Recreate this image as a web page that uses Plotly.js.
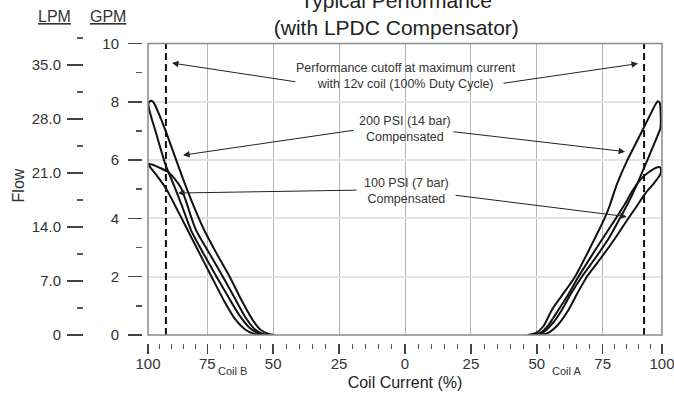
<!DOCTYPE html>
<html>
<head>
<meta charset="utf-8">
<script src="https://cdn.plot.ly/plotly-3.0.1.min.js"></script>
<style>html,body{margin:0;padding:0;background:#fff;}#chart{width:674px;height:396px;}</style>
</head>
<body>
<div id="chart"></div>
<script>
// ---- axis ticks ----
const xTickVals = [-97.5, -75, -50, -25, 0, 25, 50, 75, 97.5];
const xTickText = ['100', '75', '50', '25', '0', '25', '50', '75', '100'];
const xMinorVals = [-93, -88.5, -84, -79.5, -70, -65, -60, -55, -45, -40, -35, -30, -20, -15, -10, -5,
                    5, 10, 15, 20, 30, 35, 40, 45, 55, 60, 65, 70, 79.5, 84, 88.5, 93];
const gpmTicks = [0, 2, 4, 6, 8, 10];
const lpmTicks = [0, 7, 14, 21, 28, 35];
const lpmText = ['0', '7.0', '14.0', '21.0', '28.0', '35.0'];
const lpmMinor = [3.5, 10.5, 17.5, 24.5, 31.5, 38.5];

// ---- cutoff (max current, 12v coil) ----
const cutoffX = [-90.7, 90.7];
const cutoffFlow = [0, 10];

// ---- Coil B (left) 200 PSI loop ----
const coilB200X = [-53.5, -55.5, -59, -63, -67, -71.5, -76.5, -81.2, -84.5, -87.5, -90.7, -92.6, -94.5, -96.2, -97.2,
                   -97.3, -96.6, -95.6,
                   -94.9, -93.2, -90.6, -88.2, -85.6, -83.1, -79.6, -76.2, -71.5, -66.5, -63.2, -60, -57.3, -54.7, -51.8, -49.5];
const coilB200Y = [0, 0.05, 0.25, 0.7, 1.3, 2.0, 2.8, 3.6, 4.4, 5.1, 5.8, 6.35, 6.95, 7.45, 7.8,
                   7.95, 8.03, 8.0,
                   7.9, 7.55, 6.95, 6.35, 5.7, 5.09, 4.3, 3.6, 2.8, 2.0, 1.4, 0.86, 0.45, 0.17, 0.04, 0];

// ---- Coil B (left) 100 PSI loop ----
const coilB100X = [-55.5, -57, -60.5, -64.5, -68.5, -73.4, -78.5, -83.3, -87, -90.5, -94, -96.2, -97.2,
                   -97.3,
                   -96, -93.6, -90, -87.3, -85, -83.3, -81.5, -79.3, -74.2, -69.1, -64.5, -60.5, -57, -54, -52];
const coilB100Y = [0, 0.03, 0.18, 0.55, 1.15, 2.0, 2.9, 3.75, 4.4, 5.0, 5.45, 5.7, 5.82,
                   5.86,
                   5.85, 5.76, 5.6, 5.35, 5.05, 4.65, 4.15, 3.6, 2.8, 2.0, 1.25, 0.6, 0.2, 0.04, 0];

// ---- Coil A (right) 200 PSI loop ----
const coilA200X = [46.5, 49.5, 52.5, 55.7, 59.5, 64.5, 70, 75.7, 77.5, 80.3, 84.1, 89.2, 93, 94.9, 95.9, 96.7, 97.0, 96.9,
                   94.5, 91.7, 88.2, 84.8, 81.2, 77.2, 72.3, 67.1, 63, 59.5, 56, 52.5, 49.5];
const coilA200Y = [0, 0.06, 0.3, 0.86, 1.35, 2.0, 2.95, 4.0, 4.4, 5.15, 5.95, 6.86, 7.55, 7.89, 8.02, 7.95, 7.6, 7.1,
                   6.55, 5.95, 5.2, 4.55, 3.95, 3.3, 2.65, 2.0, 1.42, 0.86, 0.4, 0.1, 0];

// ---- Coil A (right) 100 PSI loop ----
const coilA100X = [48.5, 51.5, 54.5, 58.2, 62, 65.8, 71, 76, 80, 83.5, 86.1, 88.7, 91.2, 93.7, 96.2, 96.9,
                   97.1, 96.8,
                   94.4, 91.2, 87.4, 83.6, 78.8, 74, 69, 65.5, 62, 58, 54.5, 51.5];
const coilA100Y = [0, 0.08, 0.35, 0.86, 1.4, 2.0, 2.75, 3.45, 4.0, 4.5, 4.92, 5.26, 5.5, 5.66, 5.76, 5.74,
                   5.62, 5.5,
                   5.2, 4.86, 4.35, 3.85, 3.2, 2.6, 2.0, 1.45, 0.86, 0.35, 0.08, 0];

const FONT = 'Liberation Sans, Arial, Helvetica, sans-serif';
const curveLine = {color: '#111', width: 2, shape: 'spline', smoothing: 0.6};

const traces = [
  {x: coilB200X, y: coilB200Y, mode: 'lines', line: curveLine, hoverinfo: 'skip', name: 'Coil B 200 PSI'},
  {x: coilB100X, y: coilB100Y, mode: 'lines', line: curveLine, hoverinfo: 'skip', name: 'Coil B 100 PSI'},
  {x: coilA200X, y: coilA200Y, mode: 'lines', line: curveLine, hoverinfo: 'skip', name: 'Coil A 200 PSI'},
  {x: coilA100X, y: coilA100Y, mode: 'lines', line: curveLine, hoverinfo: 'skip', name: 'Coil A 100 PSI'},
  {x: [cutoffX[0], cutoffX[0], null, cutoffX[1], cutoffX[1]],
   y: [cutoffFlow[0], cutoffFlow[1], null, cutoffFlow[0], cutoffFlow[1]],
   mode: 'lines', line: {color: '#111', width: 2, dash: '7px,4px'}, hoverinfo: 'skip', name: 'cutoff'},
  // empty carrier so the LPM (second flow scale) axis is drawn
  {x: [null], y: [null], xaxis: 'x2', yaxis: 'y2', mode: 'lines', hoverinfo: 'skip', name: 'LPM scale'}
];

function arrow(x, y, ax, ay) {
  return {x: x, y: y, ax: ax, ay: ay, xref: 'x', yref: 'y', axref: 'x', ayref: 'y',
          text: '', showarrow: true, arrowhead: 2, arrowsize: 1.3, arrowwidth: 1, arrowcolor: '#222', standoff: 0};
}
function label(xref, x, yref, y, text, size) {
  return {xref: xref, x: x, yref: yref, y: y, text: text, showarrow: false,
          xanchor: 'center', yanchor: 'middle', font: {family: FONT, size: size, color: '#333'}};
}

const layout = {
  width: 674, height: 396,
  margin: {l: 20, r: 12, t: 36, b: 50},
  paper_bgcolor: '#fff', plot_bgcolor: 'rgba(0,0,0,0)',
  showlegend: false,
  font: {family: FONT, color: '#333'},
  title: {text: 'Typical Performance<br>(with LPDC Compensator)', font: {family: FONT, size: 21, color: '#222'},
          xref: 'container', x: 0.588, xanchor: 'center', yref: 'container', y: 0.98, yanchor: 'bottom'},
  xaxis: {
    domain: [0.19938, 1], range: [-97.5, 97.5], anchor: 'free', position: 0.00968,
    showline: false, zeroline: false,
    tickmode: 'array', tickvals: xTickVals, ticktext: xTickText,
    ticks: 'outside', ticklen: 10, tickwidth: 1.5, tickcolor: '#444',
    tickfont: {family: FONT, size: 15, color: '#333'}, ticklabeloverflow: 'allow', ticklabelstandoff: -3,
    showgrid: true, gridcolor: '#b4b4b4', gridwidth: 1,
    minor: {tickmode: 'array', tickvals: xMinorVals, ticks: 'outside', ticklen: 5, tickwidth: 1, tickcolor: '#555', showgrid: false},
    title: {text: 'Coil Current (%)', font: {family: FONT, size: 16, color: '#222'}, standoff: 5}
  },
  xaxis2: {domain: [0.19938, 1], range: [-97.5, 97.5], anchor: 'y2', visible: false, showgrid: false, zeroline: false},
  yaxis: {
    domain: [0.035484, 0.97581], range: [0, 10], anchor: 'free', position: 0.19003,
    showline: false, zeroline: false,
    tickmode: 'array', tickvals: gpmTicks,
    ticks: 'outside', ticklen: 14, tickwidth: 1.5, tickcolor: '#444',
    tickfont: {family: FONT, size: 15, color: '#333'}, ticklabelstandoff: 6,
    showgrid: true, gridcolor: '#e2e2e2', gridwidth: 2,
    minor: {dtick: 1, tick0: 0, ticks: 'outside', ticklen: 6, tickwidth: 1.5, tickcolor: '#555', showgrid: false}
  },
  yaxis2: {
    domain: [0.035484, 1], range: [0, 38.76], anchor: 'free', position: 0.09813,
    showline: false, zeroline: false, showgrid: false,
    tickmode: 'array', tickvals: lpmTicks, ticktext: lpmText,
    ticks: 'outside', ticklen: 16, tickwidth: 1.5, tickcolor: '#444',
    tickfont: {family: FONT, size: 15, color: '#333'}, ticklabelstandoff: 3,
    minor: {tickmode: 'array', tickvals: lpmMinor, ticks: 'outside', ticklen: 6, tickwidth: 1.5, tickcolor: '#555', showgrid: false},
    title: {text: 'Flow', font: {family: FONT, size: 16, color: '#333'}, standoff: 2}
  },
  shapes: [
    {type: 'rect', xref: 'x domain', yref: 'y domain', x0: 0, x1: 1, y0: 0, y1: 1,
     line: {color: '#8a8a8a', width: 1.5}, layer: 'above'}
  ],
  annotations: [
    label('paper', 0.0545, 'paper', 1.0613, '<u>LPM</u>', 16),
    label('paper', 0.137, 'paper', 1.0613, '<u>GPM</u>', 16),
    label('x', -65.3, 'paper', -0.0806, 'Coil B', 11),
    label('x', 61.1, 'paper', -0.0806, 'Coil A', 11),
    label('x', 0.5, 'y', 8.9, 'Performance cutoff at maximum current<br>with 12v coil (100% Duty Cycle)', 12.5),
    label('x', 0, 'y', 7.05, '200 PSI (14 bar)<br>Compensated', 12.5),
    label('x', 0.5, 'y', 4.95, '100 PSI (7 bar)<br>Compensated', 12.5),
    arrow(-88.4, 9.33, -41, 8.68),
    arrow(88.4, 9.31, 36.8, 8.63),
    arrow(-84.2, 6.17, -19, 7.03),
    arrow(83.5, 6.29, 17.8, 6.98),
    arrow(-86.1, 4.87, -17.8, 4.97),
    arrow(84.1, 4.06, 18.6, 4.8)
  ]
};

Plotly.newPlot('chart', traces, layout, {staticPlot: true, displayModeBar: false});
</script>
</body>
</html>
